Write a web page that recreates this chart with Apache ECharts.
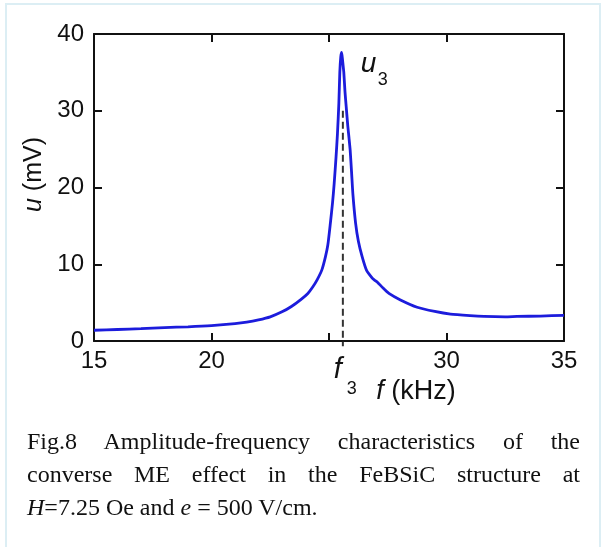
<!DOCTYPE html>
<html>
<head>
<meta charset="utf-8">
<script src="https://cdn.jsdelivr.net/npm/echarts@6/dist/echarts.min.js"></script>
<style>
  html, body { margin: 0; padding: 0; background: #ffffff; }
  #wrap { position: relative; width: 603px; height: 547px; overflow: hidden; background: #fff; }
  #frame { position: absolute; left: 5px; top: 3px; width: 592px; height: 600px; border: 2px solid #dcEEF4; border-bottom: none; }
  #chart { position: absolute; left: 0; top: 0; width: 603px; height: 547px; }
  #caption { position: absolute; left: 27px; top: 425px; width: 553px; font-family: "Liberation Serif", "Times New Roman", serif; font-size: 24px; line-height: 33px; color: #111; }
  #caption .j2 { text-align: justify; text-align-last: justify; }
  #caption .l { text-align: left; }
</style>
</head>
<body>
<div id="wrap">
  <div id="frame"></div>
  <div id="chart"></div>
  <div id="caption">
    <div class="j2">Fig.8 Amplitude-frequency characteristics of the</div>
    <div class="j2">converse ME effect in the FeBSiC structure at</div>
    <div class="l"><i>H</i>=7.25 Oe and <i>e</i> = 500 V/cm.</div>
  </div>
</div>
<script>
// Data
const freq = [15.0,16.0,17.0,18.0,19.0,20.0,21.0,21.5,22.0,22.5,23.0,23.4,23.8,24.1,24.3,24.5,24.7,24.85,24.95,25.06,25.15,25.22,25.3,25.36,25.42,25.46,25.5,25.54,25.58,25.63,25.68,25.73,25.8,25.85,25.9,25.96,26.02,26.13,26.25,26.41,26.6,26.84,26.95,27.05,27.3,27.55,28.04,28.75,29.5,30.17,31.0,31.6,32.5,33.0,34.0,35.0];
const amp = [1.4,1.5,1.6,1.75,1.85,2.0,2.25,2.45,2.75,3.15,3.8,4.5,5.4,6.2,7.0,8.0,9.3,11.0,12.5,15.4,18.0,20.5,24.0,27.0,31.0,35.0,37.0,37.6,36.5,35.0,32.5,30.6,28.0,26.5,24.9,22.0,19.0,15.4,13.0,11.0,9.2,8.2,7.9,7.7,6.9,6.2,5.35,4.4,3.85,3.5,3.3,3.2,3.15,3.2,3.25,3.35];
const xTicks = [15, 20, 25, 30, 35];
const yTicks = [0, 10, 20, 30, 40];
const hiddenXTick = 25;           // replaced by the f3 marker label
const f3 = 25.59;                 // resonance frequency marker (dashed line)
const f3Line = [30, -0.7];        // dashed line from 30 mV down to slightly below the axis
const peak = [25.54, 37.6];       // u3 peak

const data = freq.map((f, i) => [f, amp[i]]);
const sans = '"Liberation Sans", Arial, sans-serif';
const black = '#111';

const chart = echarts.init(document.getElementById('chart'), null, { renderer: 'canvas' });

const axisCommon = {
  type: 'value',
  splitLine: { show: false },
  axisLine: { show: true, onZero: false, lineStyle: { color: black, width: 2 } },
  axisTick: { show: true, inside: true, length: 8, lineStyle: { color: black, width: 2 } }
};

chart.setOption({
  animation: false,
  backgroundColor: 'transparent',
  grid: { left: 94, top: 34, width: 470, height: 307, containLabel: false },
  xAxis: [
    Object.assign({}, axisCommon, {
      position: 'bottom',
      min: xTicks[0], max: xTicks[xTicks.length - 1], interval: xTicks[1] - xTicks[0],
      axisLabel: {
        color: black, fontSize: 24, fontFamily: sans, margin: 8,
        formatter: v => (v === hiddenXTick ? '' : String(v))
      },
      name: '{i|f} (kHz)',
      nameLocation: 'middle',
      nameGap: 37,
      nameTextStyle: {
        color: black, fontSize: 27, fontFamily: sans, padding: [0, 0, 0, 174],
        rich: { i: { fontStyle: 'italic', fontSize: 27, fontFamily: sans, color: black } }
      }
    }),
    Object.assign({}, axisCommon, {
      position: 'top',
      min: xTicks[0], max: xTicks[xTicks.length - 1], interval: xTicks[1] - xTicks[0],
      axisLabel: { show: false }
    })
  ],
  yAxis: [
    Object.assign({}, axisCommon, {
      position: 'left',
      min: yTicks[0], max: yTicks[yTicks.length - 1], interval: yTicks[1] - yTicks[0],
      axisLabel: { color: black, fontSize: 24, fontFamily: sans, margin: 10 },
      name: '{i|u} (mV)',
      nameLocation: 'middle',
      nameRotate: 90,
      nameGap: 44,
      nameTextStyle: {
        color: black, fontSize: 25, fontFamily: sans, padding: [0, 0, 0, 26],
        rich: { i: { fontStyle: 'italic', fontSize: 25, fontFamily: sans, color: black } }
      }
    }),
    Object.assign({}, axisCommon, {
      position: 'right',
      min: yTicks[0], max: yTicks[yTicks.length - 1], interval: yTicks[1] - yTicks[0],
      axisLabel: { show: false }
    })
  ],
  series: [
    {
      name: 'f3 marker',
      type: 'line',
      data: f3Line.map(v => [f3, v]),
      xAxisIndex: 0, yAxisIndex: 0,
      showSymbol: false, symbol: 'none',
      clip: false,
      silent: true,
      lineStyle: { color: '#333', type: [7, 4], width: 2 },
      z: 2
    },
    {
      name: 'u',
      type: 'line',
      data: data,
      xAxisIndex: 0, yAxisIndex: 0,
      showSymbol: false, symbol: 'none',
      smooth: 0.2,
      clip: false,
      lineStyle: { color: '#1c1cdc', width: 2.8 },
      z: 3
    }
  ]
});

// Marker labels placed relative to the data positions
const pF3 = chart.convertToPixel({ gridIndex: 0 }, [f3, 0]);
const pPk = chart.convertToPixel({ gridIndex: 0 }, peak);
chart.setOption({
  graphic: [
    { type: 'text', x: pF3[0] - 9, y: pF3[1] + 14,
      style: { text: 'f', font: 'italic 29px ' + sans, fill: black, textVerticalAlign: 'top' } },
    { type: 'text', x: pF3[0] + 4, y: pF3[1] + 39,
      style: { text: '3', font: '18px ' + sans, fill: black, textVerticalAlign: 'top' } },
    { type: 'text', x: pPk[0] + 19, y: pPk[1] - 2,
      style: { text: 'u', font: 'italic 28px ' + sans, fill: black, textVerticalAlign: 'top' } },
    { type: 'text', x: pPk[0] + 36, y: pPk[1] + 19,
      style: { text: '3', font: '18px ' + sans, fill: black, textVerticalAlign: 'top' } }
  ]
});
</script>
</body>
</html>
